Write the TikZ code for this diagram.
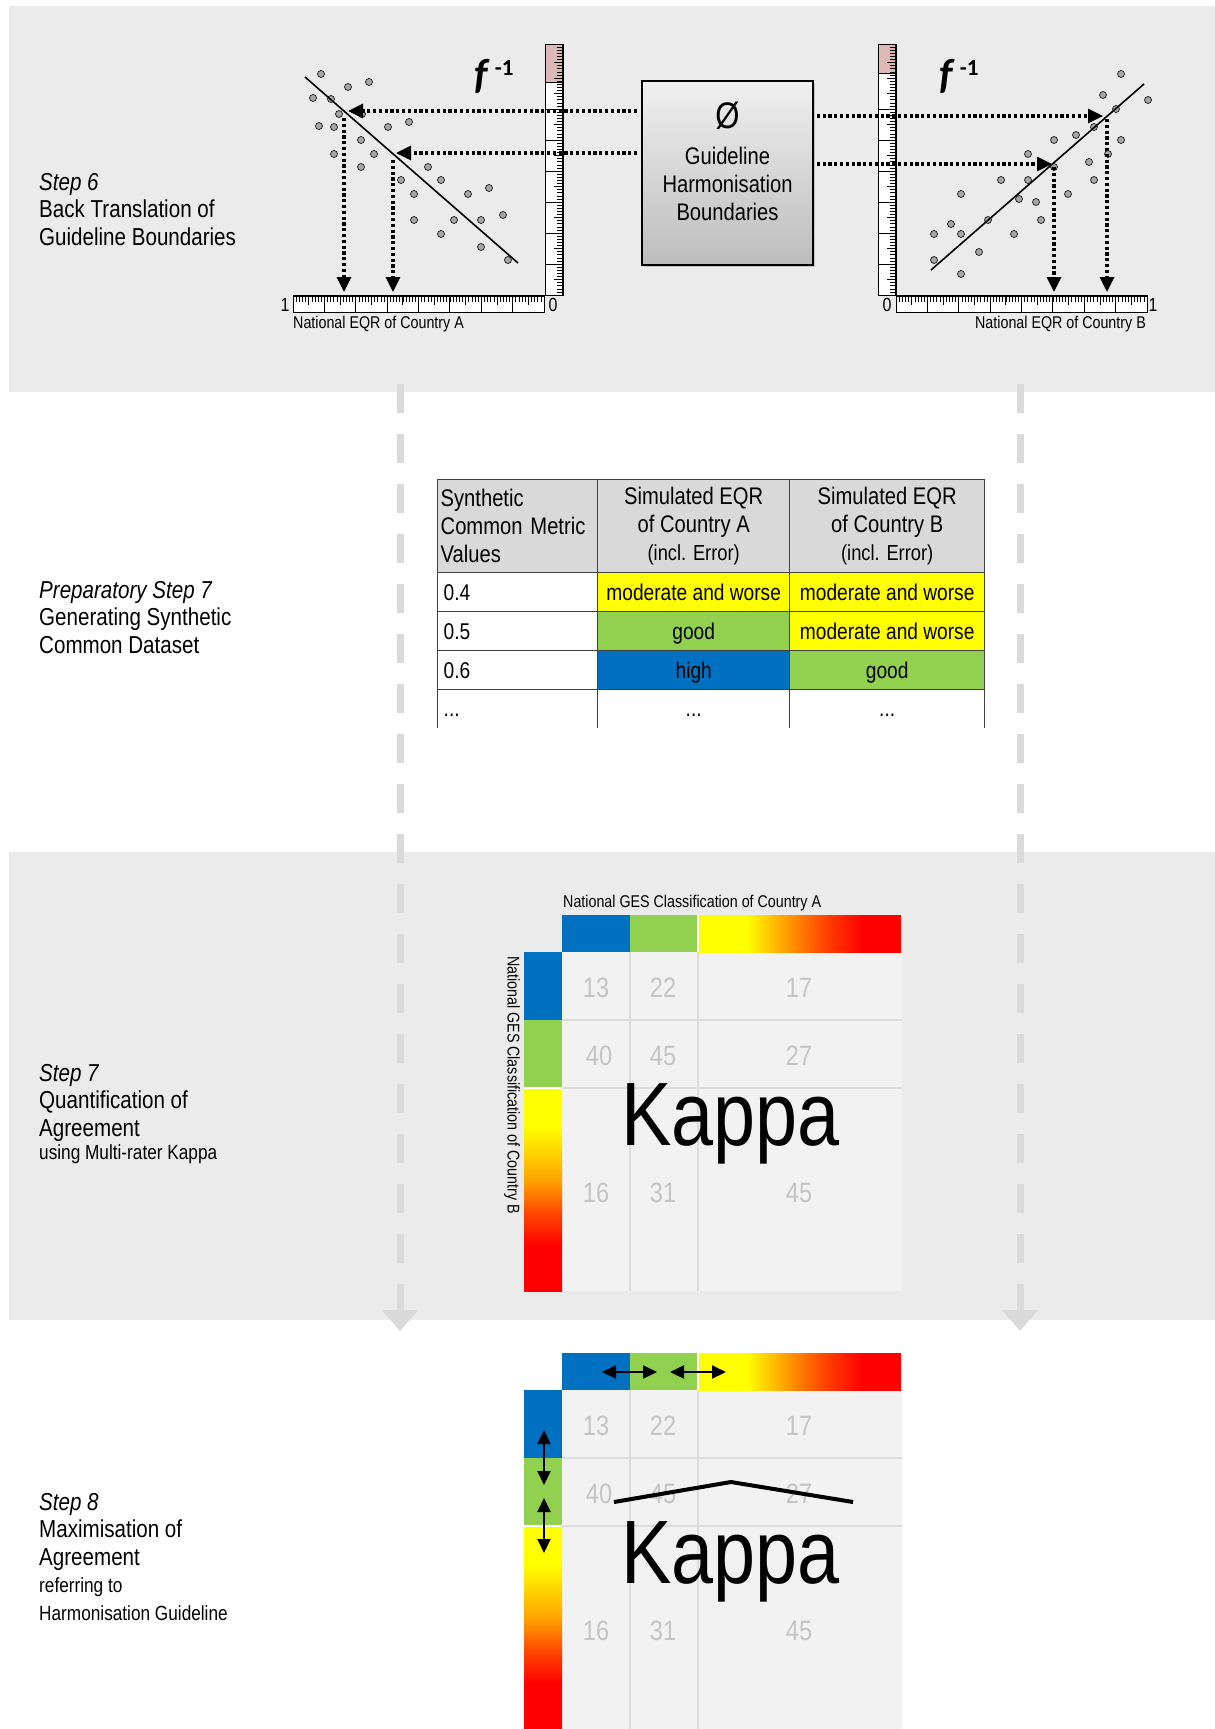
\documentclass[tikz,border=0pt]{standalone}
\usepackage{fontspec}
\setmainfont{Liberation Sans}[FakeStretch=0.84]
\newfontfamily\calfont{Carlito}
\usepackage{tikz}
\usetikzlibrary{arrows.meta,positioning,shadows}
\definecolor{bandgray}{HTML}{EBEBEB}
\definecolor{cellgray}{HTML}{F2F2F2}
\definecolor{gridgray}{HTML}{DCDCDC}
\definecolor{numgray}{HTML}{C4C4C4}
\definecolor{flowgray}{HTML}{DADADA}
\definecolor{hdrgray}{HTML}{D9D9D9}
\definecolor{tabline}{HTML}{404040}
\definecolor{ptgray}{HTML}{A6A6A6}
\definecolor{rulerpink}{HTML}{DDB8B7}
\definecolor{gesblue}{HTML}{0070C0}
\definecolor{gesgreen}{HTML}{92D050}
\definecolor{gesyellow}{HTML}{FFFF00}
\definecolor{gesorange}{HTML}{FFA500}
\definecolor{gesredor}{HTML}{FF4500}
\definecolor{gesred}{HTML}{FF0000}
\pgfdeclarehorizontalshading{gesgradh}{100bp}{color(0bp)=(gesyellow); color(37bp)=(gesyellow);
  color(46bp)=(gesorange); color(56bp)=(gesredor); color(65.5bp)=(gesred); color(100bp)=(gesred)}
\pgfdeclareverticalshading{gesgradv}{100bp}{color(0bp)=(gesred); color(36bp)=(gesred);
  color(44bp)=(gesredor); color(52.5bp)=(gesorange); color(65.5bp)=(gesyellow); color(100bp)=(gesyellow)}

\begin{document}
\begin{tikzpicture}[
  x=1pt, y=-1pt,
  steplbl/.style={anchor=north west, align=left, inner sep=0pt, font=\fontsize{24.5}{27.5}\selectfont},
  ghbox/.style={draw=black, line width=1.5pt, top color=black!6, bottom color=black!26,
                minimum width=171pt, minimum height=184pt, inner sep=0pt,
                drop shadow={shadow xshift=2pt, shadow yshift=-2pt, opacity=0.35}},
  ghtext/.style={align=center, inner sep=0pt, font=\fontsize{24}{28}\selectfont},
  finv/.style={font=\calfont\bfseries\itshape\fontsize{42}{42}\selectfont},
  axlbl/.style={font=\fontsize{17}{20}\selectfont, inner sep=0pt},
  endlbl/.style={font=\fontsize{19}{20}\selectfont, inner sep=0pt},
  pt/.style={fill=ptgray, draw=black, line width=0.6pt},
  dotarr/.style={line width=3.2pt, dash pattern=on 3.2pt off 2.6pt, -{Triangle[length=15pt,width=14pt]}},
  flow/.style={flowgray, line width=7pt, dash pattern=on 29pt off 21pt, -{Triangle[length=21pt,width=35pt]}},
  hcell/.style={draw=tabline, line width=1.5pt, outer sep=0pt, fill=hdrgray, minimum height=93pt,
                inner xsep=3pt, align=center, font=\fontsize{24}{28}\selectfont},
  cell/.style={draw=tabline, line width=1.5pt, outer sep=0pt, minimum height=39pt, inner xsep=6pt,
               text height=16pt, text depth=0pt, font=\fontsize{22.8}{24}\selectfont},
  tabrule/.style={tabline, line width=1.5pt},
  gridline/.style={gridgray, line width=2pt},
  num/.style={numgray, font=\fontsize{28}{28}\selectfont},
  kappa/.style={anchor=base, inner sep=0pt, font=\fontsize{90}{90}\selectfont},
  dblarr/.style={line width=2pt, {Triangle[length=14pt,width=13pt]}-{Triangle[length=14pt,width=13pt]}}
]
\useasboundingbox (0,0) rectangle (1215,1729);
\fill[white] (0,0) rectangle (1215,1729);

% bands
\fill[bandgray] (9,5.5) rectangle (1215,392);
\fill[bandgray] (9,852) rectangle (1215,1320);

% flow through the steps
\coordinate (fl0) at (400,384);
\coordinate (fl1) at (400,1331);
\coordinate (fr0) at (1020,384);
\coordinate (fr1) at (1020,1331);
\draw[flow] (fl0) -- (fl1);
\draw[flow] (fr0) -- (fr1);

% step labels
\node[steplbl] (s6) at (39,173) {\textit{Step 6}\\Back Translation of\\Guideline Boundaries};
\node[steplbl] (s7p) at (39,581) {\textit{Preparatory Step 7}\\Generating Synthetic\\Common Dataset};
\node[steplbl] (s7) at (39,1064) {\textit{Step 7}\\Quantification of\\Agreement\\[-4pt]
  {\fontsize{20.5}{22}\selectfont using Multi-rater Kappa}};
\node[steplbl] (s8) at (39,1493) {\textit{Step 8}\\Maximisation of\\Agreement\\
  {\fontsize{20.5}{22}\selectfont referring to}\\{\fontsize{20.5}{22}\selectfont Harmonisation Guideline}};

% rulers
\foreach \rx in {293,896} {
  \draw[fill=white, line width=0.8pt] (\rx,295.5) rectangle ++(251,17);
  \foreach \i in {1,...,79} \draw[line width=0.6pt] (\rx+\i*3.1375,295.5) -- ++(0,6);
  \foreach \i in {1,...,15} \draw[line width=0.8pt] (\rx+\i*15.6875,295.5) -- ++(0,9);
  \foreach \i in {1,...,7} \draw[line width=0.8pt] (\rx+\i*31.375,295.5) -- ++(0,17);
  \draw[line width=2pt] (\rx,295.5) -- ++(251,0);
}
\foreach \rx/\pk in {545/82,878/73} {
  \draw[fill=white, line width=0.8pt] (\rx,44) rectangle ++(18,251);
  \fill[rulerpink] (\rx,44) rectangle (\rx+18,\pk);
  \foreach \i in {1,...,80} \draw[line width=0.6pt] (\rx+18,295-\i*3.1) -- ++(-6,0);
  \foreach \i in {1,...,15} \draw[line width=0.8pt] (\rx+18,295-\i*15.5) -- ++(-9,0);
  \foreach \i in {1,...,6} \draw[line width=0.8pt] (\rx,295-\i*31) -- ++(18,0);
  \draw[line width=0.8pt] (\rx,\pk) -- ++(18,0);
  \draw[line width=0.8pt] (\rx,44) rectangle ++(18,251);
  \draw[line width=2pt] (\rx+18,44) -- ++(0,251);
}
\node[endlbl] (oneA) at (285,305) {1};
\node[endlbl] (zeroA) at (553,305) {0};
\node[endlbl] (zeroB) at (887,305) {0};
\node[endlbl] (oneB) at (1153,305) {1};
\node[axlbl, anchor=west] (xlabA) at (293,324) {National EQR of Country A};
\node[axlbl, anchor=east] (xlabB) at (1146,324) {National EQR of Country B};

% scatter of country A
\foreach \px/\py in {321/74,348/87,369/82,313/98,331/99,339/114,362/114,319/126,334/127,388/127,
  409/122,361/140,334/154,374/154,361/167,428/167,401/180,441/180,414/194,468/194,489/188,
  414/220,454/220,481/220,503/215,441/234,481/247,508/260}
  \draw[pt] (\px,\py) circle (3.5pt);
\draw[line width=1.6pt] (305,77) -- (518,263);

% scatter of country B
\foreach \px/\py in {1121/74,1103/95,1148/100,1116/109,1094/127,1121/140,1054/140,1076/135,
  1028/154,1108/154,1089/162,1054/167,1001/180,1028/180,1094/180,961/194,1068/194,1019/199,
  1036/202,988/220,1041/220,951/224,934/234,961/234,1014/234,979/252,934/260,961/274}
  \draw[pt] (\px,\py) circle (3.5pt);
\draw[line width=1.6pt] (931,270) -- (1144,84);

\node[finv] (finvA) at (494,76) {f\,\raisebox{13pt}{\upshape\fontsize{23}{23}\selectfont -1}};
\node[finv] (finvB) at (959,76) {f\,\raisebox{13pt}{\upshape\fontsize{23}{23}\selectfont -1}};

% harmonisation box
\node[ghbox] (gh) at (727.5,173) {};
\node[ghtext] (ghlbl) at (727.5,161)
  {{\fontsize{37}{37}\selectfont Ø}\\[8pt]Guideline\\Harmonisation\\Boundaries};

% back translation
\coordinate (pA1) at (348,111);
\coordinate (pA2) at (396,153);
\coordinate (xA1) at (344,292);
\coordinate (xA2) at (393,292);
\coordinate (pB1) at (1103,116);
\coordinate (pB2) at (1052,164);
\coordinate (xB1) at (1107,292);
\coordinate (xB2) at (1054,292);
\draw[dotarr, shorten <=4pt] (gh.west |- pA1) -- (pA1);
\draw[dotarr, shorten <=4pt] (gh.west |- pA2) -- (pA2);
\draw[dotarr, shorten <=3pt] (gh.east |- pB1) -- (pB1);
\draw[dotarr, shorten <=3pt] (gh.east |- pB2) -- (pB2);
\draw[dotarr, shorten <=7pt] (xA1 |- pA1) -- (xA1);
\draw[dotarr, shorten <=7pt] (xA2 |- pA2) -- (xA2);
\draw[dotarr, shorten <=3pt] (xB1 |- pB1) -- (xB1);
\draw[dotarr, shorten <=3pt] (xB2 |- pB2) -- (xB2);

% synthetic common dataset
\node[hcell, minimum width=160pt, text width=154pt, align=left] (h1) at (517.7,526)
  {Synthetic\\Common Metric\\Values};
\node[hcell, minimum width=192pt, right=0pt of h1] (h2)
  {Simulated EQR\\of Country A\\{\fontsize{21.8}{24}\selectfont (incl. Error)}};
\node[hcell, minimum width=195pt, right=0pt of h2] (h3)
  {Simulated EQR\\of Country B\\{\fontsize{21.8}{24}\selectfont (incl. Error)}};
\node[cell, minimum width=160pt, text width=148pt, below=0pt of h1] (a1) {0.4};
\node[cell, minimum width=192pt, fill=gesyellow, right=0pt of a1] (b1) {moderate and worse};
\node[cell, minimum width=195pt, fill=gesyellow, right=0pt of b1] (c1) {moderate and worse};
\node[cell, minimum width=160pt, text width=148pt, below=0pt of a1] (a2) {0.5};
\node[cell, minimum width=192pt, fill=gesgreen, right=0pt of a2] (b2) {good};
\node[cell, minimum width=195pt, fill=gesyellow, right=0pt of b2] (c2) {moderate and worse};
\node[cell, minimum width=160pt, text width=148pt, below=0pt of a2] (a3) {0.6};
\node[cell, minimum width=192pt, fill=gesblue, right=0pt of a3] (b3) {high};
\node[cell, minimum width=195pt, fill=gesgreen, right=0pt of b3] (c3) {good};
\node[cell, draw=none, minimum width=160pt, text width=148pt, minimum height=38pt, below=0pt of a3] (a4) {...};
\node[cell, draw=none, minimum width=192pt, minimum height=38pt, right=0pt of a4] (b4) {...};
\node[cell, draw=none, minimum width=195pt, minimum height=38pt, right=0pt of b4] (c4) {...};
\draw[tabrule] (a4.north west) -- (a4.south west);
\draw[tabrule] (b4.north west) -- (b4.south west);
\draw[tabrule] (c4.north west) -- (c4.south west);
\draw[tabrule] (c4.north east) -- (c4.south east);

% agreement matrices
\foreach \dy/\m in {0/a,438/b} {
  \begin{scope}[shift={(0,\dy)}]
    \fill[cellgray] (562,952) rectangle (902,1291);
    \draw[gridline] (629.5,952) -- (629.5,1291);
    \draw[gridline] (698,952) -- (698,1291);
    \draw[gridline] (562,1019.5) -- (902,1019.5);
    \draw[gridline] (562,1087.5) -- (902,1087.5);
    \fill[gesblue] (562,915) rectangle (630,952);
    \fill[gesgreen] (630,915) rectangle (698,952);
    \shade[shading=gesgradh] (698,915) rectangle (901,952);
    \fill[gesblue] (524,952) rectangle (562,1020);
    \fill[gesgreen] (524,1020) rectangle (562,1088);
    \shade[shading=gesgradv] (524,1088) rectangle (562,1291);
    \draw[white, line width=1.2pt] (698,915) -- (698,952);
    \draw[white, line width=1.2pt] (524,1088) -- (562,1088);
    \foreach \v/\nx/\ny/\k in {13/596/988/11,22/663/988/12,17/799/988/13,
                              40/599/1056/21,45/663/1056/22,27/799/1056/23,
                              16/596/1193/31,31/663/1193/32,45/799/1193/33}
      \node[num] (\m-\k) at (\nx,\ny) {\v};
    \node[kappa] (\m-kappa) at (730.5,1145) {Kappa};
  \end{scope}
}
\node[axlbl, anchor=west] (gesA) at (563,903) {National GES Classification of Country A};
\node[axlbl, rotate=-90] (gesB) at (512,1085) {National GES Classification of Country B};

% maximisation
\draw[line width=4pt] (614,1502) -- (731,1482) -- (853,1502);
\coordinate (hl1) at (602,1372);
\coordinate (hr1) at (657,1372);
\coordinate (hl2) at (670,1372);
\coordinate (hr2) at (726,1372);
\coordinate (vt1) at (544,1430);
\coordinate (vb1) at (544,1485);
\coordinate (vt2) at (544,1498);
\coordinate (vb2) at (544,1553);
\draw[dblarr] (hl1) -- (hr1);
\draw[dblarr] (hl2) -- (hr2);
\draw[dblarr] (vt1) -- (vb1);
\draw[dblarr] (vt2) -- (vb2);

\end{tikzpicture}
\end{document}
